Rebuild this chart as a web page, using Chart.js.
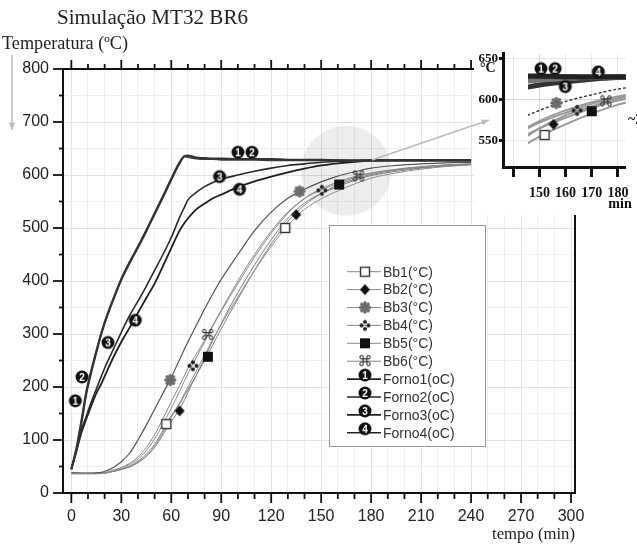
<!DOCTYPE html>
<html>
<head>
<meta charset="utf-8">
<title>Simulação MT32 BR6</title>
<script src="https://cdn.jsdelivr.net/npm/chart.js"></script>
<style>
  body { margin: 0; background: #fff; }
  #wrap { position: relative; width: 637px; height: 544px; }
  #chart { position: absolute; left: 0; top: 0; }
  #zoom { position: absolute; left: 470px; top: 45px; }
</style>
</head>
<body>
<div id="wrap">
  <canvas id="chart" width="637" height="544"></canvas>
  <canvas id="zoom" width="167" height="170"></canvas>
</div>

<script>
// tempo (min) comum a todas as curvas
var tempo = [0, 3, 6, 9, 12, 15, 18, 21, 24, 27, 30, 35, 40, 45, 50, 55, 60, 65, 68, 70,
             75, 80, 85, 90, 100, 110, 120, 130, 140, 150, 160, 170, 180, 195, 210, 225, 240];

// temperaturas (°C)
var bb1 = [36, 36, 36, 36, 36, 36, 37, 38, 40, 42, 45, 50, 58, 70, 88, 114, 142, 170, 188, 200,
           230, 260, 290, 318, 370, 420, 465, 505, 535, 555, 570, 583, 594, 604, 611, 616, 619];
var bb2 = [37, 37, 37, 37, 37, 37, 37, 38, 40, 42, 44, 49, 57, 69, 86, 110, 135, 158, 176, 190,
           222, 255, 288, 320, 378, 430, 478, 518, 547, 565, 578, 590, 599, 607, 613, 617, 620];
var bb3 = [38, 38, 37, 37, 37, 38, 39, 42, 46, 52, 59, 75, 100, 128, 158, 188, 218, 252, 272, 285,
           316, 347, 376, 403, 450, 495, 530, 556, 573, 587, 598, 606, 613, 618, 621, 623, 624];
var bb4 = [38, 38, 38, 38, 38, 38, 38, 39, 41, 44, 47, 54, 64, 80, 102, 130, 160, 192, 212, 225,
           255, 285, 315, 343, 395, 445, 490, 528, 555, 572, 584, 595, 603, 610, 615, 619, 621];
var bb5 = [37, 37, 37, 37, 37, 37, 37, 38, 40, 42, 45, 51, 60, 73, 92, 118, 146, 168, 184, 195,
           222, 250, 280, 310, 366, 420, 470, 512, 543, 565, 581, 592, 601, 609, 614, 618, 620];
var bb6 = [37, 37, 37, 37, 37, 37, 38, 39, 42, 45, 48, 56, 68, 86, 110, 140, 172, 203, 222, 235,
           262, 288, 317, 345, 400, 450, 494, 530, 556, 574, 587, 597, 604, 611, 616, 619, 621];
var forno1 = [45, 80, 130, 187, 228, 265, 300, 330, 355, 379, 402, 434, 463, 494, 526, 558, 591, 622, 636, 637,
              633, 632, 631, 631, 630, 630, 630, 629, 629, 629, 628, 628, 628, 628, 628, 628, 628];
var forno2 = [45, 84, 136, 192, 232, 268, 302, 331, 357, 381, 404, 436, 465, 496, 528, 560, 593, 624, 635, 634,
              631, 630, 630, 629, 629, 629, 628, 628, 628, 628, 628, 627, 627, 627, 627, 627, 627];
var forno3 = [45, 80, 118, 145, 172, 196, 220, 243, 263, 283, 303, 335, 362, 390, 420, 450, 482, 520, 540, 553,
              567, 578, 586, 592, 600, 607, 613, 618, 621, 624, 626, 627, 628, 628, 628, 628, 628];
var forno4 = [45, 78, 113, 140, 165, 188, 206, 227, 248, 267, 285, 312, 340, 368, 395, 428, 462, 495, 510, 518,
              535, 546, 556, 563, 577, 588, 597, 605, 612, 618, 622, 625, 627, 628, 628, 628, 628];

var nomes = ['Bb1(°C)', 'Bb2(°C)', 'Bb3(°C)', 'Bb4(°C)', 'Bb5(°C)', 'Bb6(°C)',
             'Forno1(oC)', 'Forno2(oC)', 'Forno3(oC)', 'Forno4(oC)'];

// marcadores sobre as curvas no gráfico principal
var marcaX = [[57, 128.4], [65, 135], [59.4, 137], [73, 150.4], [82, 160.8], [81.8, 172.4],
              [2.4, 100], [6.4, 108.4], [22, 89], [38.4, 101]];
var marcaY = [[130, 500], [155, 525], [213, 569], [240, 571], [257, 582], [298, 597],
              [174, 643], [219, 643], [284, 597], [326, 573]];

// marcadores no detalhe (150-180 min)
var detalheX = [152, 155.4, 156.5, 164.4, 170, 175.4, 150.6, 156, 159.9, 172.5];
var detalheY = [557, 570, 596, 587, 586, 598, 638, 638, 616, 634];

var ticksTempo = [0, 10, 20, 30, 40, 50, 60, 70, 80, 90, 100, 110, 120, 130, 140, 150, 160, 170, 180, 190,
                  200, 210, 220, 230, 240, 250, 260, 270, 280, 290, 300];
var ticksTemp = [0, 50, 100, 150, 200, 250, 300, 350, 400, 450, 500, 550, 600, 650, 700, 750, 800];
var ticksDetalheX = [140, 150, 160, 170, 180];
var ticksDetalheY = [550, 600, 650];

var series = [bb1, bb2, bb3, bb4, bb5, bb6, forno1, forno2, forno3, forno4];
var tipos = ['quadrado', 'losango', 'flor', 'cruz', 'cheio', 'cmd', '1', '2', '3', '4'];
var cores = ['#8c8c8c', '#7c7c7c', '#555', '#8c8c8c', '#808080', '#888', '#333', '#3c3c3c', '#2a2a2a', '#1e1e1e'];
var larguras = [1, 1, 1.2, 1, 1, 1, 2, 2, 1.6, 1.8];

function icone(tipo) {
    var c = document.createElement('canvas');
    c.width = 16; c.height = 16;
    var g = c.getContext('2d');
    g.translate(8, 8);
    if (/^[1-4]$/.test(tipo)) {
        g.fillStyle = '#111';
        g.beginPath(); g.arc(0, 0, 6.5, 0, Math.PI * 2); g.fill();
        g.fillStyle = '#fff';
        g.font = 'bold 10px "Liberation Sans"';
        g.textAlign = 'center'; g.textBaseline = 'middle';
        g.fillText(tipo, 0, 1);
    } else if (tipo == 'quadrado') {
        g.fillStyle = '#fff'; g.strokeStyle = '#333'; g.lineWidth = 1.4;
        g.fillRect(-4.5, -4.5, 9, 9); g.strokeRect(-4.5, -4.5, 9, 9);
    } else if (tipo == 'losango') {
        g.fillStyle = '#111';
        g.beginPath(); g.moveTo(0, -5.5); g.lineTo(5, 0); g.lineTo(0, 5.5); g.lineTo(-5, 0); g.closePath(); g.fill();
    } else if (tipo == 'flor') {
        g.fillStyle = '#6a6a6a';
        for (var k = 0; k < 8; k++) {
            var a = k * Math.PI / 4;
            g.beginPath(); g.arc(4.5 * Math.cos(a), 4.5 * Math.sin(a), 1.7, 0, Math.PI * 2); g.fill();
        }
        g.beginPath(); g.arc(0, 0, 3.8, 0, Math.PI * 2); g.fill();
    } else if (tipo == 'cruz') {
        g.fillStyle = '#222';
        [[0, -3.5], [3.5, 0], [0, 3.5], [-3.5, 0]].forEach(function(p) {
            g.beginPath(); g.arc(p[0], p[1], 2, 0, Math.PI * 2); g.fill();
        });
    } else if (tipo == 'cheio') {
        g.fillStyle = '#111'; g.fillRect(-5, -5, 10, 10);
    } else if (tipo == 'cmd') {
        g.fillStyle = '#333'; g.font = '15px "DejaVu Sans"';
        g.textAlign = 'center'; g.textBaseline = 'middle';
        g.fillText('\u2318', 0, 1);
    }
    return c;
}

var icones = tipos.map(icone);

function pontos(ys) {
    return tempo.map(function(t, i) { return { x: t, y: ys[i] }; });
}

function texto(ctx, txt, familia, largura, x, y, alinhar) {
    ctx.font = '20px ' + familia;
    var tam = 20 * largura / ctx.measureText(txt).width;
    ctx.font = tam.toFixed(1) + 'px ' + familia;
    ctx.textAlign = alinhar;
    ctx.textBaseline = 'middle';
    ctx.fillText(txt, x, y);
}

function seta(ctx, x1, y1, x2, y2) {
    var a = Math.atan2(y2 - y1, x2 - x1);
    ctx.beginPath(); ctx.moveTo(x1, y1); ctx.lineTo(x2, y2); ctx.stroke();
    ctx.beginPath();
    ctx.moveTo(x2, y2);
    ctx.lineTo(x2 - 8 * Math.cos(a - 0.4), y2 - 8 * Math.sin(a - 0.4));
    ctx.lineTo(x2 - 8 * Math.cos(a + 0.4), y2 - 8 * Math.sin(a + 0.4));
    ctx.closePath(); ctx.fill();
}

// ---------- gráfico principal ----------
var dadosPrincipal = [];
series.forEach(function(s, i) {
    dadosPrincipal.push({
        label: nomes[i],
        data: pontos(s),
        borderColor: cores[i],
        borderWidth: larguras[i],
        pointRadius: 0,
        cubicInterpolationMode: 'monotone',
        fill: false,
        order: 2
    });
});
series.forEach(function(s, i) {
    dadosPrincipal.push({
        label: nomes[i] + ' marca',
        data: marcaX[i].map(function(x, k) { return { x: x, y: marcaY[i][k] }; }),
        showLine: false,
        pointStyle: icones[i],
        pointRadius: 7,
        order: 0
    });
});

var extras = {
    id: 'extras',
    beforeDatasetsDraw: function(chart) {
        var ctx = chart.ctx, sx = chart.scales.x, sy = chart.scales.y;
        ctx.save();
        ctx.fillStyle = 'rgba(0,0,0,0.07)';
        ctx.beginPath();
        ctx.arc(sx.getPixelForValue(165), sy.getPixelForValue(608), 45, 0, Math.PI * 2);
        ctx.fill();
        ctx.restore();
    },
    afterDraw: function(chart) {
        var ctx = chart.ctx, a = chart.chartArea, sx = chart.scales.x, sy = chart.scales.y;
        ctx.save();
        ctx.strokeStyle = '#111'; ctx.lineWidth = 2;
        ctx.beginPath();
        ctx.moveTo(a.left - 1, a.top); ctx.lineTo(a.right, a.top); ctx.lineTo(a.right, a.bottom);
        ctx.stroke();

        ctx.lineWidth = 1.8;
        ticksTempo.forEach(function(v) {
            var px = sx.getPixelForValue(v), L = v % 30 === 0 ? 10 : 6;
            ctx.beginPath();
            ctx.moveTo(px, a.bottom); ctx.lineTo(px, a.bottom + L);
            ctx.moveTo(px, a.top); ctx.lineTo(px, a.top - L + 1);
            ctx.stroke();
        });
        ticksTemp.forEach(function(v) {
            var py = sy.getPixelForValue(v), L = v % 100 === 0 ? 10 : 4;
            ctx.beginPath(); ctx.moveTo(a.left, py); ctx.lineTo(a.left - L, py); ctx.stroke();
        });

        // legenda
        var lx = 329, ly = 225, lw = 156, lh = 221;
        ctx.fillStyle = '#fff'; ctx.fillRect(lx, ly, lw, lh);
        ctx.strokeStyle = '#999'; ctx.lineWidth = 1; ctx.strokeRect(lx + 0.5, ly + 0.5, lw, lh);
        nomes.forEach(function(n, i) {
            var y = 271.7 + i * 17.9, forno = i >= 6;
            ctx.strokeStyle = forno ? '#222' : '#888';
            ctx.lineWidth = forno ? 1.6 : 1;
            ctx.beginPath(); ctx.moveTo(347, y); ctx.lineTo(381, y); ctx.stroke();
            ctx.drawImage(icones[i], 365 - 8, y - 8 - (forno ? 4 : 0));
            ctx.fillStyle = '#333';
            ctx.font = '14px "Liberation Sans"';
            ctx.textAlign = 'left'; ctx.textBaseline = 'middle';
            ctx.fillText(n, 383, y + 1);
        });

        // área do detalhe
        ctx.fillStyle = '#fff';
        ctx.fillRect(474, 40, 163, 175);
        ctx.strokeStyle = '#bbb'; ctx.fillStyle = '#bbb'; ctx.lineWidth = 1.5;
        seta(ctx, 372, 160, 489, 120);
        seta(ctx, 12, 55, 12, 130);

        // textos
        ctx.fillStyle = '#222';
        texto(ctx, 'Simulação MT32 BR6', '"Liberation Serif"', 191, 57, 18, 'left');
        texto(ctx, 'Temperatura (ºC)', '"Liberation Serif"', 126, 2, 44, 'left');
        texto(ctx, 'tempo (min)', '"Liberation Serif"', 83, 575, 535, 'right');
        ctx.restore();
    }
};

new Chart(document.getElementById('chart'), {
    type: 'line',
    data: { datasets: dadosPrincipal },
    options: {
        responsive: false,
        animation: false,
        events: [],
        layout: { padding: { top: 69, right: 62, left: 0, bottom: 0 } },
        plugins: { legend: { display: false }, tooltip: { enabled: false } },
        scales: {
            x: {
                type: 'linear', min: -5, max: 302.4,
                afterBuildTicks: function(s) { s.ticks = ticksTempo.map(function(v) { return { value: v }; }); },
                afterFit: function(s) { s.height = 51; },
                ticks: {
                    autoSkip: false, maxRotation: 0, padding: 14, color: '#222',
                    font: { family: 'Liberation Sans', size: 16 },
                    callback: function(v) { return v % 30 === 0 ? v : ''; }
                },
                grid: {
                    drawTicks: false,
                    color: function(c) { return c.tick && c.tick.value % 30 === 0 ? '#e2e2e2' : '#efefef'; }
                },
                border: { color: '#111', width: 2 }
            },
            y: {
                min: 0, max: 800,
                afterBuildTicks: function(s) { s.ticks = ticksTemp.map(function(v) { return { value: v }; }); },
                afterFit: function(s) { s.width = 63; },
                ticks: {
                    autoSkip: false, padding: 14, color: '#222',
                    font: { family: 'Liberation Sans', size: 16 },
                    callback: function(v) { return v % 100 === 0 ? v : ''; }
                },
                grid: {
                    drawTicks: false,
                    color: function(c) { return c.tick && c.tick.value % 100 === 0 ? '#e2e2e2' : '#efefef'; }
                },
                border: { color: '#111', width: 2 }
            }
        }
    },
    plugins: [extras]
});

// ---------- detalhe ----------
var dadosDetalhe = [];
series.forEach(function(s, i) {
    var forno = i >= 6;
    dadosDetalhe.push({
        label: nomes[i],
        data: pontos(s),
        borderColor: forno ? ['#222', '#555', '#777', '#333'][i - 6] : (i == 2 ? '#333' : '#999'),
        borderWidth: forno ? 5 : (i == 2 ? 1.4 : 2),
        borderDash: i == 2 ? [3, 2] : [],
        pointRadius: 0,
        cubicInterpolationMode: 'monotone',
        fill: false,
        clip: { left: -25, top: 0, right: 0, bottom: 0 },
        order: 2
    });
});
dadosDetalhe.push({
    label: 'marcas',
    data: detalheX.map(function(x, k) { return { x: x, y: detalheY[k] }; }),
    showLine: false,
    pointStyle: icones,
    pointRadius: 7,
    order: 0
});

var textosDetalhe = {
    id: 'textosDetalhe',
    afterDraw: function(chart) {
        var ctx = chart.ctx;
        ctx.save();
        ctx.fillStyle = '#111';
        ctx.font = 'bold 14px "Liberation Serif"';
        ctx.textAlign = 'left'; ctx.textBaseline = 'middle';
        ctx.fillText('°C', 10, 23);
        ctx.fillText('~20', 158, 75);
        ctx.textAlign = 'center';
        ctx.fillText('min', 150, 159);
        ctx.restore();
    }
};

new Chart(document.getElementById('zoom'), {
    type: 'line',
    data: { datasets: dadosDetalhe },
    options: {
        responsive: false,
        animation: false,
        events: [],
        layout: { padding: { top: 6, right: 9, left: 0, bottom: 0 } },
        plugins: { legend: { display: false }, tooltip: { enabled: false } },
        scales: {
            x: {
                type: 'linear', min: 136.1, max: 183,
                afterBuildTicks: function(s) { s.ticks = ticksDetalheX.map(function(v) { return { value: v }; }); },
                afterFit: function(s) { s.height = 48; },
                ticks: {
                    autoSkip: false, maxRotation: 0, padding: 8, color: '#111',
                    font: { family: 'Liberation Serif', size: 14, weight: 'bold' },
                    callback: function(v) { return v === 140 ? '' : v; }
                },
                grid: {
                    tickLength: 10, tickWidth: 3, tickColor: '#111',
                    color: function(c) { return c.tick && c.tick.value === 150 ? '#d8d8d8' : '#e8e8e8'; }
                },
                border: { color: '#111', width: 3 }
            },
            y: {
                min: 518, max: 656,
                afterBuildTicks: function(s) { s.ticks = ticksDetalheY.map(function(v) { return { value: v }; }); },
                afterFit: function(s) { s.width = 33; },
                ticks: {
                    autoSkip: false, padding: 1, color: '#111',
                    font: { family: 'Liberation Serif', size: 13, weight: 'bold' }
                },
                grid: {
                    tickLength: 4, tickWidth: 3, tickColor: '#111',
                    color: function(c) { return c.tick && c.tick.value === 600 ? '#d8d8d8' : '#e8e8e8'; }
                },
                border: { color: '#111', width: 3 }
            }
        }
    },
    plugins: [textosDetalhe]
});
</script>
</body>
</html>
